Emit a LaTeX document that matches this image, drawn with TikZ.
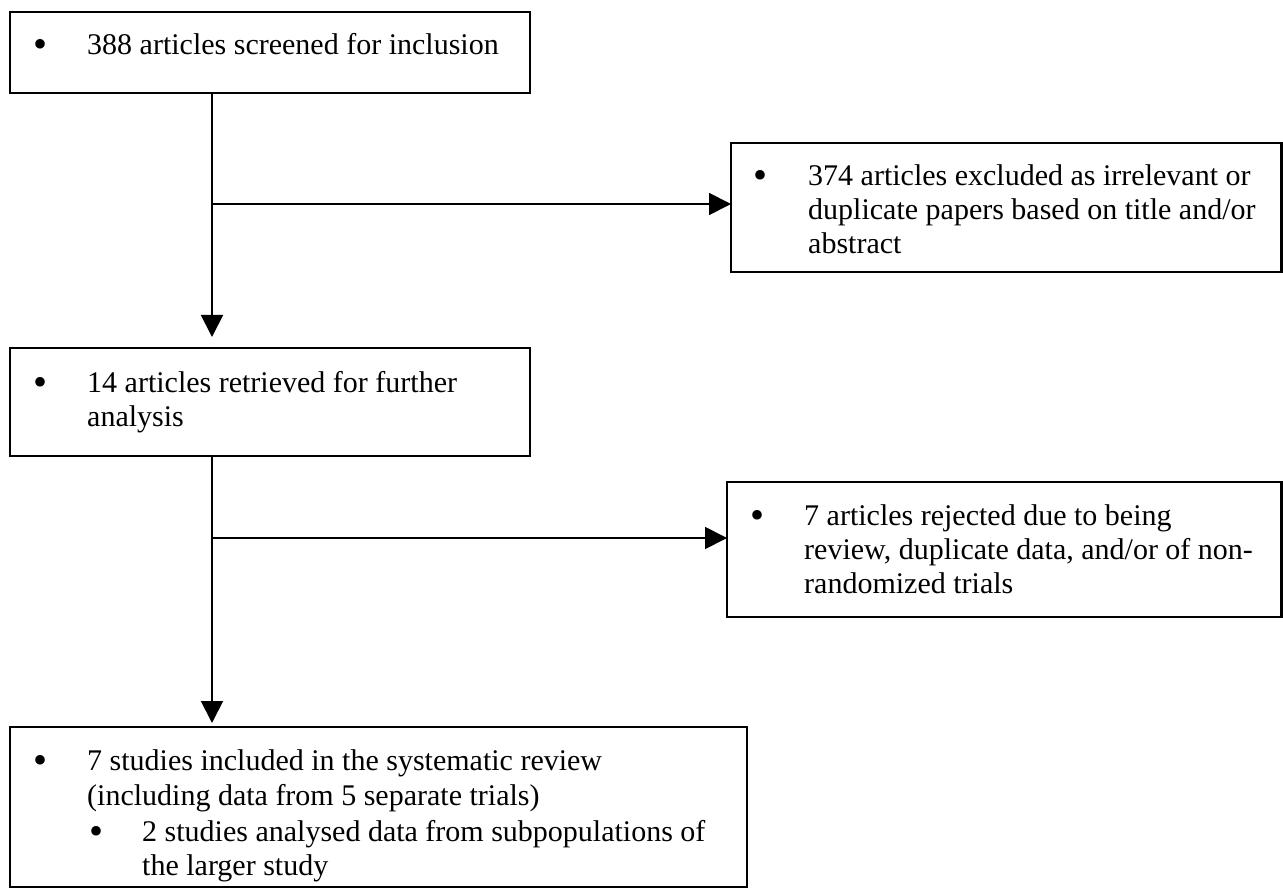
\documentclass[tikz,border=0pt]{standalone}
\usepackage{fontspec}
\setmainfont{Liberation Serif}
\usetikzlibrary{arrows.meta}
\begin{document}
\begin{tikzpicture}[x=1pt,y=-1pt,
  box/.style={draw,line width=2.2pt,rectangle,inner sep=0pt,outer sep=0pt,anchor=north west},
  txt/.style={anchor=base west,inner sep=0pt,font=\fontsize{30}{34}\selectfont},
  bul/.style={anchor=base,inner sep=0pt,font=\fontsize{40}{40}\selectfont},
  conn/.style={line width=1.8pt},
  arr/.style={conn,-{Triangle[length=22pt,width=22pt]}}]
\useasboundingbox (0,0) rectangle (1283,890);
% boxes
\node[box,minimum width=520pt,minimum height=81pt] (b1) at (10,12) {};
\node[box,minimum width=520pt,minimum height=108pt] (b2) at (10,348) {};
\node[box,minimum width=550.5pt,minimum height=129pt] (b3) at (731,143) {};
\node[box,minimum width=554.5pt,minimum height=135pt] (b5) at (727,482) {};
\node[box,minimum width=737pt,minimum height=160pt] (b4) at (10,727) {};
% box 1 text
\node[bul] (b1d) at (41,58) {•};
\node[txt] (b1t) at (87,55) {388 articles screened for inclusion};
% box 2 text
\node[bul] (b2d) at (41,396) {•};
\node[txt] (b2t1) at (87,393) {14 articles retrieved for further};
\node[txt] (b2t2) at (87,427) {analysis};
% box 3 text
\node[bul] (b3d) at (760,189) {•};
\node[txt] (b3t1) at (808,186) {374 articles excluded as irrelevant or};
\node[txt] (b3t2) at (808,220) {duplicate papers based on title and/or};
\node[txt] (b3t3) at (808,254) {abstract};
% box 5 text
\node[bul] (b5d) at (757,528) {•};
\node[txt] (b5t1) at (804,525) {7 articles rejected due to being};
\node[txt] (b5t2) at (804,559) {review, duplicate data, and/or of non-};
\node[txt] (b5t3) at (804,593) {randomized trials};
% box 4 text
\node[bul] (b4d) at (41,773) {•};
\node[txt] (b4t1) at (87,770) {7 studies included in the systematic review};
\node[txt] (b4t2) at (87,805) {(including data from 5 separate trials)};
\node[bul] (b4e) at (97,844) {•};
\node[txt] (b4t3) at (142,841) {2 studies analysed data from subpopulations of};
\node[txt] (b4t4) at (142,875) {the larger study};
% connectors
\coordinate (j1) at (212,204);
\coordinate (j2) at (212,538);
\draw[arr,shorten >=11pt] (j1 |- b1.south) -- (j1 |- b2.north);
\draw[arr] (j1) -- (j1 -| b3.west);
\draw[arr,shorten >=4pt] (j2 |- b2.south) -- (j2 |- b4.north);
\draw[arr] (j2) -- (j2 -| b5.west);
\end{tikzpicture}
\end{document}
